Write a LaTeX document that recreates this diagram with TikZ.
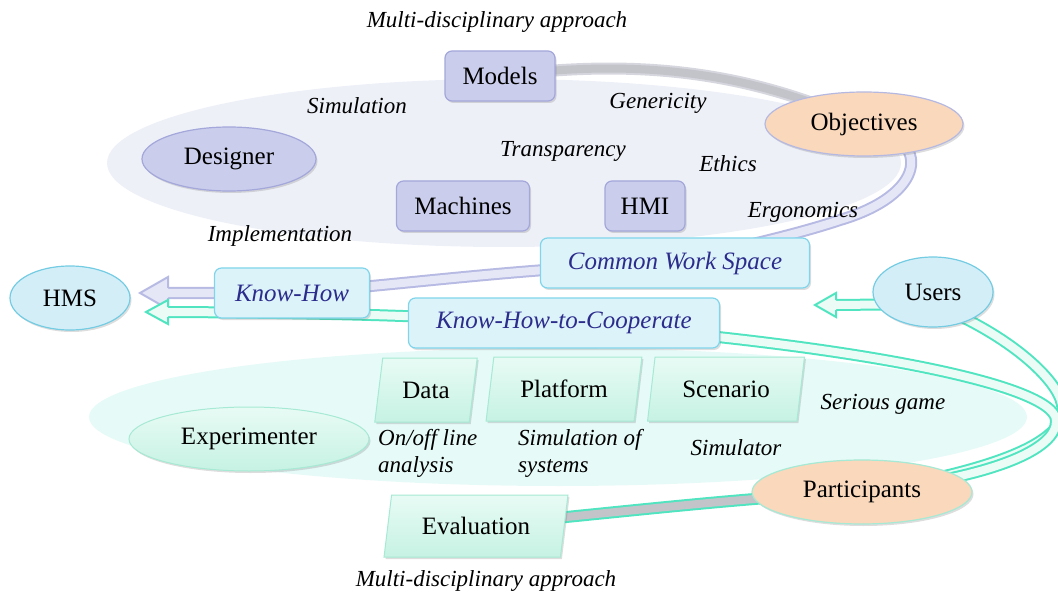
\documentclass[tikz,border=0pt]{standalone}
\usepackage{fontspec}
\setmainfont{Liberation Serif}
\usetikzlibrary{shapes.geometric,shadows}

% colours
\definecolor{lavfill}{HTML}{CACDEB}
\definecolor{lavedge}{HTML}{A3A7DA}
\definecolor{peachfill}{HTML}{F9D8BC}
\definecolor{cyanfill}{HTML}{DDF3FA}
\definecolor{cyanedge}{HTML}{80D5EA}
\definecolor{skyfill}{HTML}{D4EEF8}
\definecolor{skyedge}{HTML}{74CCE3}
\definecolor{tealfill}{HTML}{C6F2E3}
\definecolor{teallight}{HTML}{E8FBF5}
\definecolor{tealedge}{HTML}{A6E9D4}
\definecolor{inkblue}{HTML}{2B2C8C}
\definecolor{bglav}{HTML}{EEF0F8}
\definecolor{bgteal}{HTML}{E6FAF7}
\definecolor{bandgreyedge}{HTML}{D5D6DE}
\definecolor{bandgreyfill}{HTML}{C3C4CA}
\definecolor{bandlavedge}{HTML}{B7BAE3}
\definecolor{bandlavfill}{HTML}{E5E7F7}
\definecolor{bandtealedge}{HTML}{50E5C0}
\definecolor{bandtealfill}{HTML}{EBFCF7}

\newcommand{\boxfont}{\fontsize{25}{30}\selectfont}
\newcommand{\lblfont}{\itshape\fontsize{23}{27}\selectfont}

% open arrow head: base x, y, tip x, half head, half shaft, colour prefix
\newcommand{\hollowtip}[6]{%
  \fill[#6fill] (#1,#2-#4) -- (#3,#2) -- (#1,#2+#4) -- cycle;
  \draw[#6edge, line width=2pt, line join=miter] (#1,#2-#5) -- (#1,#2-#4) -- (#3,#2) -- (#1,#2+#4) -- (#1,#2+#5);}

\pgfdeclarelayer{backdrop}
\pgfdeclarelayer{bands}
\pgfsetlayers{backdrop,bands,main}

\tikzset{
  softshadow/.style={drop shadow={shadow xshift=1.5pt, shadow yshift=-2pt, opacity=0.22, fill=black!60}},
  lavbox/.style={rectangle, rounded corners=7pt, draw=lavedge, line width=1.2pt, fill=lavfill,
    minimum height=50pt, inner xsep=15pt, font=\boxfont, softshadow},
  lavoval/.style={ellipse, draw=lavedge, line width=1.2pt, fill=lavfill, minimum height=64pt,
    font=\boxfont, softshadow},
  cyanbox/.style={rectangle, rounded corners=7pt, draw=cyanedge, line width=1.2pt, fill=cyanfill,
    minimum height=50pt, inner xsep=15pt, font=\itshape\boxfont, text=inkblue, softshadow},
  skyoval/.style={ellipse, draw=skyedge, line width=1.2pt, fill=skyfill, font=\boxfont, softshadow},
  peachoval/.style={ellipse, line width=1.2pt, fill=peachfill, minimum height=64pt, font=\boxfont, softshadow},
  tealpara/.style={trapezium, trapezium left angle=78, trapezium right angle=102, trapezium stretches=true,
    draw=tealedge, line width=1pt, top color=teallight, bottom color=tealfill, minimum height=64pt,
    font=\boxfont, softshadow},
  tealoval/.style={ellipse, draw=tealedge, line width=1pt, top color=teallight, bottom color=tealfill,
    minimum height=64pt, font=\boxfont, softshadow},
  lbl/.style={font=\lblfont, inner sep=1pt},
  band/.style 2 args={line width=12pt, draw=#1, line cap=butt, postaction={draw=#2, line width=8pt}},
}

\begin{document}
\begin{tikzpicture}[x=1pt, y=-1pt]
\useasboundingbox (0,0) rectangle (1058,596);
\coordinate (lavbase) at (168,293);
\coordinate (tealbase) at (168,312);
\coordinate (usersbase) at (836,305);

% Design side
\node[lavbox, minimum width=110pt] (models) at (500,76) {Models};
\node[lavoval, minimum width=174pt] (designer) at (229,159) {Designer};
\node[lavbox, minimum width=133pt] (machines) at (463,206) {Machines};
\node[lavbox, minimum width=80pt] (hmi) at (645,206) {HMI};
\node[peachoval, draw=lavedge!80, minimum width=198pt] (objectives) at (864,124) {Objectives};

% Cooperation
\node[cyanbox, minimum width=269pt] (cws) at (675,263) {Common Work Space};
\node[cyanbox, minimum width=155pt] (knowhow) at (292,293) {Know-How};
\node[cyanbox, minimum width=311pt] (khtc) at (564,323) {Know-How-to-Cooperate};
\node[skyoval, minimum width=120pt, minimum height=64pt] (hms) at (70,298) {HMS};
\node[skyoval, minimum width=120pt, minimum height=70pt] (users) at (933,292) {Users};

% Evaluation side
\node[tealpara, minimum width=103pt] (data) at (426,390) {Data};
\node[tealpara, minimum width=156pt] (platform) at (564,389) {Platform};
\node[tealpara, minimum width=157pt] (scenario) at (726,389) {Scenario};
\node[tealoval, minimum width=240pt] (experimenter) at (249,439) {Experimenter};
\node[tealpara, minimum width=184pt, minimum height=62pt] (evaluation) at (476,526) {Evaluation};
\node[peachoval, draw=tealedge, minimum width=220pt] (participants) at (862,492) {Participants};

% Labels
\node[lbl] (topnote) at (497,22) {Multi-disciplinary approach};
\node[lbl] (bottomnote) at (486,581) {Multi-disciplinary approach};
\node[lbl] (simulation) at (357,106) {Simulation};
\node[lbl] (genericity) at (658,103) {Genericity};
\node[lbl] (transparency) at (563,151) {Transparency};
\node[lbl] (ethics) at (728,164) {Ethics};
\node[lbl] (ergonomics) at (803,212) {Ergonomics};
\node[lbl] (implementation) at (280,236) {Implementation};
\node[lbl] (seriousgame) at (883,404) {Serious game};
\node[lbl] (simulator) at (736,448) {Simulator};
\node[lbl, align=left, anchor=west] (analysis) at (377,453) {On/off line\\analysis};
\node[lbl, align=left, anchor=west] (systems) at (517,453) {Simulation of\\systems};

% Background ellipses
\begin{pgfonlayer}{backdrop}
  \fill[bglav] (504,163) ellipse [x radius=397, y radius=84];
  \fill[bgteal] (558,417) ellipse [x radius=469, y radius=69];
\end{pgfonlayer}

% Bands
\begin{pgfonlayer}{bands}
  % design loop
  \draw[band={bandgreyedge}{bandgreyfill}] (models.center) .. controls (640,58) and (750,72) .. (objectives.center);
  \draw[band={bandlavedge}{bandlavfill}] (objectives.center) .. controls (935,140) and (925,195) .. (840,220)
    .. controls (780,240) and (700,255) .. (cws.center) .. controls (520,268) and (430,282) .. (knowhow.center) -- (lavbase);
  \hollowtip{168}{293}{140}{16}{5}{bandlav}
  % evaluation loop
  \draw[band={bandtealedge}{bandgreyfill}] (evaluation.center) .. controls (640,510) and (750,497) .. (participants.center);
  \draw[band={bandtealedge}{bandtealfill}] (participants.center) .. controls (1000,470) and (1070,440) .. (1062,405)
    .. controls (1058,380) and (1010,335) .. ([yshift=-12pt]users.center) -- (usersbase);
  \hollowtip{836}{305}{815}{12}{5}{bandteal}
  \draw[band={bandtealedge}{bandtealfill}] (participants.center) .. controls (990,478) and (1058,450) .. (1056,420)
    .. controls (1054,385) and (860,345) .. (khtc.center) .. controls (450,318) and (380,313) .. (tealbase);
  \hollowtip{168}{312}{146}{12}{5}{bandteal}
\end{pgfonlayer}
\end{tikzpicture}
\end{document}
